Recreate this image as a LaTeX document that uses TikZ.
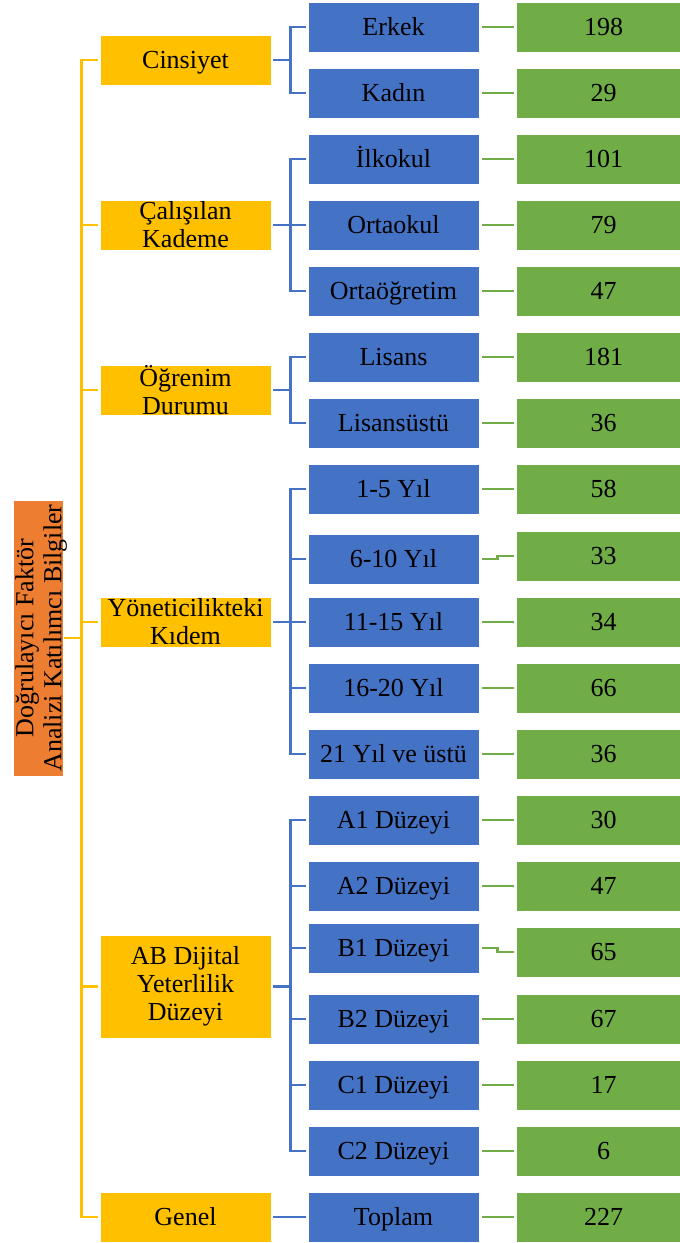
\documentclass[tikz,border=0pt]{standalone}
\usepackage{fontspec}
\setmainfont{Liberation Serif}
\definecolor{cy}{HTML}{FFC000}
\definecolor{cb}{HTML}{4472C4}
\definecolor{cg}{HTML}{70AD47}
\definecolor{co}{HTML}{ED7D31}
\begin{document}
\begin{tikzpicture}[x=1pt,y=-1pt,
  box/.style={inner sep=0pt, align=center, font=\fontsize{26}{28}\selectfont, draw=white, line width=0.6pt},
  one/.style={text height=20pt, text depth=3pt},
  cat/.style={box, fill=cy, minimum width=171pt, minimum height=50pt},
  sub/.style={box, one, fill=cb, minimum width=171pt, minimum height=50pt},
  val/.style={box, one, fill=cg, minimum width=175pt, minimum height=50pt},
  rootbox/.style={box, fill=co, minimum width=276pt, minimum height=50pt, rotate=90},
  yl/.style={draw=cy, line width=2.8pt, shorten >=2pt, shorten <=1pt},
  bl/.style={draw=cb, line width=2.8pt, shorten >=2pt, shorten <=2pt},
  gl/.style={draw=cg, line width=2.8pt, shorten >=2pt, shorten <=3pt}]
\fill[white] (0,0) rectangle (680,1243);
\useasboundingbox (0,0) rectangle (680,1243);
\clip (0,0) rectangle (680,1243);

\node[rootbox] (root) at (38,638) {\smash{\raisebox{-10pt}{\begin{tabular}{@{}c@{}}Doğrulayıcı Faktör\\Analizi Katılımcı Bilgiler\end{tabular}}}};

\node[cat, one] (c1) at (185.5,60) {Cinsiyet};
\node[cat] (c2) at (185.5,225) {Çalışılan\\Kademe};
\node[cat] (c3) at (185.5,390) {Öğrenim\\Durumu};
\node[cat] (c4) at (185.5,622) {Yöneticilikteki\\Kıdem};
\node[cat, minimum height=103pt] (c5) at (185.5,986.5) {AB Dijital\\Yeterlilik\\Düzeyi};
\node[cat, one] (c6) at (185.5,1217) {Genel};

\node[sub] (s1) at (393.5,27) {Erkek};
\node[sub] (s2) at (393.5,93) {Kadın};
\node[sub] (s3) at (393.5,159) {İlkokul};
\node[sub] (s4) at (393.5,225) {Ortaokul};
\node[sub] (s5) at (393.5,291) {Ortaöğretim};
\node[sub] (s6) at (393.5,357) {Lisans};
\node[sub] (s7) at (393.5,423) {Lisansüstü};
\node[sub] (s8) at (393.5,489) {1-5 Yıl};
\node[sub] (s9) at (393.5,559) {6-10 Yıl};
\node[sub] (s10) at (393.5,622) {11-15 Yıl};
\node[sub] (s11) at (393.5,688) {16-20 Yıl};
\node[sub] (s12) at (393.5,754) {21 Yıl ve üstü};
\node[sub] (s13) at (393.5,820) {A1 Düzeyi};
\node[sub] (s14) at (393.5,886) {A2 Düzeyi};
\node[sub] (s15) at (393.5,948) {B1 Düzeyi};
\node[sub] (s16) at (393.5,1019) {B2 Düzeyi};
\node[sub] (s17) at (393.5,1085) {C1 Düzeyi};
\node[sub] (s18) at (393.5,1151) {C2 Düzeyi};
\node[sub] (s19) at (393.5,1217) {Toplam};

\node[val] (v1) at (603.5,27) {198};
\node[val] (v2) at (603.5,93) {29};
\node[val] (v3) at (603.5,159) {101};
\node[val] (v4) at (603.5,225) {79};
\node[val] (v5) at (603.5,291) {47};
\node[val] (v6) at (603.5,357) {181};
\node[val] (v7) at (603.5,423) {36};
\node[val] (v8) at (603.5,489) {58};
\node[val] (v9) at (603.5,556) {33};
\node[val] (v10) at (603.5,622) {34};
\node[val] (v11) at (603.5,688) {66};
\node[val] (v12) at (603.5,754) {36};
\node[val] (v13) at (603.5,820) {30};
\node[val] (v14) at (603.5,886) {47};
\node[val] (v15) at (603.5,952) {65};
\node[val] (v16) at (603.5,1019) {67};
\node[val] (v17) at (603.5,1085) {17};
\node[val] (v18) at (603.5,1151) {6};
\node[val] (v19) at (603.5,1217) {227};

% root to categories
\foreach \c in {c1,c2,c3,c4,c5,c6}
  \draw[yl] (root.south) -- ++(18,0) |- (\c.west);

% categories to sub items
\foreach \s in {s1,s2} \draw[bl] (c1.east) -- ++(19,0) |- (\s.west);
\foreach \s in {s3,s4,s5} \draw[bl] (c2.east) -- ++(19,0) |- (\s.west);
\foreach \s in {s6,s7} \draw[bl] (c3.east) -- ++(19,0) |- (\s.west);
\foreach \s in {s8,s9,s10,s11,s12} \draw[bl] (c4.east) -- ++(19,0) |- (\s.west);
\foreach \s in {s13,s14,s15,s16,s17,s18} \draw[bl] (c5.east) -- ++(19,0) |- (\s.west);
\draw[bl] (c6.east) -- (s19.west);

% sub items to values
\foreach \i in {1,2,3,4,5,6,7,8,10,11,12,13,14,16,17,18,19}
  \draw[gl] (s\i.east) -- (v\i.west);
\draw[gl] (s9.east) -- ++(18,0) |- (v9.west);
\draw[gl] (s15.east) -- ++(18,0) |- (v15.west);
\end{tikzpicture}
\end{document}
